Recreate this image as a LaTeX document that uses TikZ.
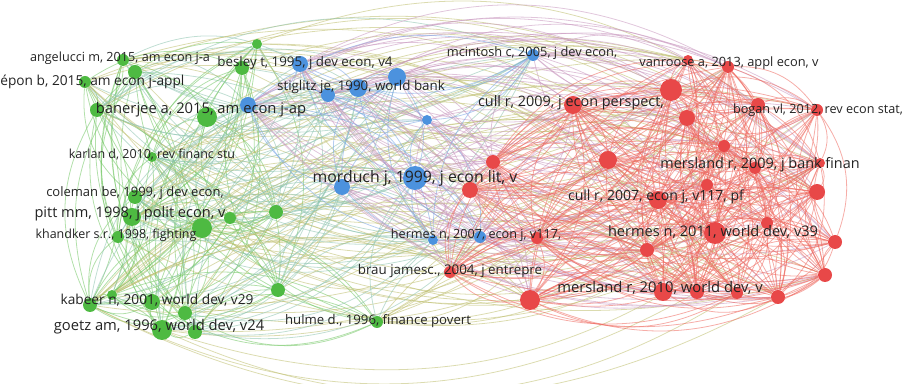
\documentclass[tikz,border=0pt]{standalone}
\usepackage{fontspec}
\setmainfont{Open Sans}
\usetikzlibrary{backgrounds}

\definecolor{gcol}{RGB}{78,186,66}
\definecolor{bcol}{RGB}{76,146,222}
\definecolor{rcol}{RGB}{232,72,72}
\definecolor{e00}{RGB}{115,198,100}
\definecolor{e01}{RGB}{140,195,175}
\definecolor{e02}{RGB}{190,190,110}
\definecolor{e11}{RGB}{120,165,230}
\definecolor{e12}{RGB}{200,150,190}
\definecolor{e22}{RGB}{238,105,95}
\definecolor{labc}{RGB}{35,35,35}

\begin{document}
\begin{tikzpicture}[x=0.02cm, y=-0.02cm,
  dot/.style={circle, inner sep=0pt, minimum size=#1*0.4mm},
  gdot/.style={dot=#1, fill=gcol},
  bdot/.style={dot=#1, fill=bcol},
  rdot/.style={dot=#1, fill=rcol},
  edge/.style={line width=0.45pt, opacity=0.55},
  lab/.style={font=\fontsize{#1}{#1}\selectfont, text=labc, inner sep=0pt}]
   \useasboundingbox (0,0) rectangle (903,384);
   \clip (0,0) rectangle (903,384);

   \foreach \n/\x/\y/\r in {1/257/44/5, 2/123/60/6, 3/135/72/7, 4/85/82/6, 5/242/68/7,
      6/97/110/7, 7/207/117/10, 8/152/157/5, 9/135/197/7, 10/132/217/9, 11/118/237/6,
      12/202/228/10, 13/230/218/6, 14/276/212/7, 15/278/290/7, 16/90/305/7, 17/112/295/5,
      18/152/302/8, 19/185/313/7, 20/162/330/10, 21/195/332/7, 22/377/322/6}
      \node[gdot=\r] (n\n) at (\x,\y) {};
   \foreach \n/\x/\y/\r in {23/300/64/8, 24/397/77/9, 25/358/88/9, 26/328/95/7, 27/248/105/8,
      28/427/120/5, 29/533/55/6, 30/415/178/12, 31/342/187/8, 32/433/240/5, 33/480/237/6}
      \node[bdot=\r] (n\n) at (\x,\y) {};
   \foreach \n/\x/\y/\r in {34/573/105/9, 35/493/162/7, 36/470/190/8, 37/537/238/6, 38/450/272/6,
      39/530/300/10, 40/663/292/9, 41/697/292/7, 42/737/293/6, 43/778/297/7, 44/825/275/7,
      45/688/60/5, 46/728/67/6, 47/671/90/11, 48/758/105/7, 49/817/110/6, 50/687/118/8,
      51/724/146/6, 52/608/160/9, 53/755/168/6, 54/820/163/5, 55/707/185/6, 56/817/192/8,
      57/658/200/9, 58/767/223/6, 59/715/233/11, 60/835/242/7, 61/647/250/7}
      \node[rdot=\r] (n\n) at (\x,\y) {};

   \begin{pgfonlayer}{background}
   \clip (0,0) rectangle (903,384);
   \pgfmathsetseed{4711}
   \foreach \i in {1,...,60} {
      \pgfmathtruncatemacro\k{\i+1}
      \foreach \j in {\k,...,61} {
         \pgfmathtruncatemacro\ci{(\i>22)+(\i>33)}
         \pgfmathtruncatemacro\cj{(\j>22)+(\j>33)}
         \pgfmathtruncatemacro\pc{3*\ci+\cj}
         \pgfmathsetmacro\p{{0.5,0.35,0.15,0,0.65,0.4,0,0,0.88}[\pc]}
         \pgfmathtruncatemacro\hit{rnd<\p}
         \pgfmathsetmacro\bd{rnd<0.5 ? 28 : -28}
         \ifnum\hit=1
            \draw[edge, color=e\ci\cj] (n\i) to[bend left=\bd] (n\j);
         \fi
      }
   }
   \end{pgfonlayer}

   \node[lab=7.2] (t2) at (120,58) {angelucci m, 2015, am econ j-a};
   \node[lab=7.8, anchor=west] (t4) at (0,82) {épon b, 2015, am econ j-appl};
   \node[lab=7.6] (t23) at (305,63) {besley t, 1995, j dev econ, v4};
   \node[lab=8.4] (t7) at (201,110) {banerjee a, 2015, am econ j-ap};
   \node[lab=7.6] (t25) at (361,87) {stiglitz je, 1990, world bank};
   \node[lab=7.3] (t29) at (532,53) {mcintosh c, 2005, j dev econ,};
   \node[lab=8.2] (t34) at (571,103) {cull r, 2009, j econ perspect,};
   \node[lab=7.3] (t46) at (729,63) {vanroose a, 2013, appl econ, v};
   \node[lab=7.2] (t49) at (818,110) {bogan vl, 2012, rev econ stat,};
   \node[lab=7.1] (t8) at (152,155) {karlan d, 2010, rev financ stu};
   \node[lab=9] (t30) at (415,178) {morduch j, 1999, j econ lit, v};
   \node[lab=8.2] (t53) at (760,165) {mersland r, 2009, j bank finan};
   \node[lab=7.4] (t9) at (135,193) {coleman be, 1999, j dev econ,};
   \node[lab=8.3] (t10) at (130,214) {pitt mm, 1998, j polit econ, v};
   \node[lab=8] (t57) at (656,197) {cull r, 2007, econ j, v117, pf};
   \node[lab=7.1] (t11) at (116,235) {khandker s.r., 1998, fighting};
   \node[lab=7.2] (t33) at (476,235) {hermes n, 2007, econ j, v117,};
   \node[lab=8.3] (t59) at (713,232) {hermes n, 2011, world dev, v39};
   \node[lab=7.6] (t38) at (450,271) {brau jamesc., 2004, j entrepre};
   \node[lab=8.4] (t40) at (660,288) {mersland r, 2010, world dev, v};
   \node[lab=7.8] (t18) at (157,300) {kabeer n, 2001, world dev, v29};
   \node[lab=7.5] (t22) at (378,321) {hulme d., 1996, finance povert};
   \node[lab=8.4] (t20) at (159,327) {goetz am, 1996, world dev, v24};
\end{tikzpicture}
\end{document}
